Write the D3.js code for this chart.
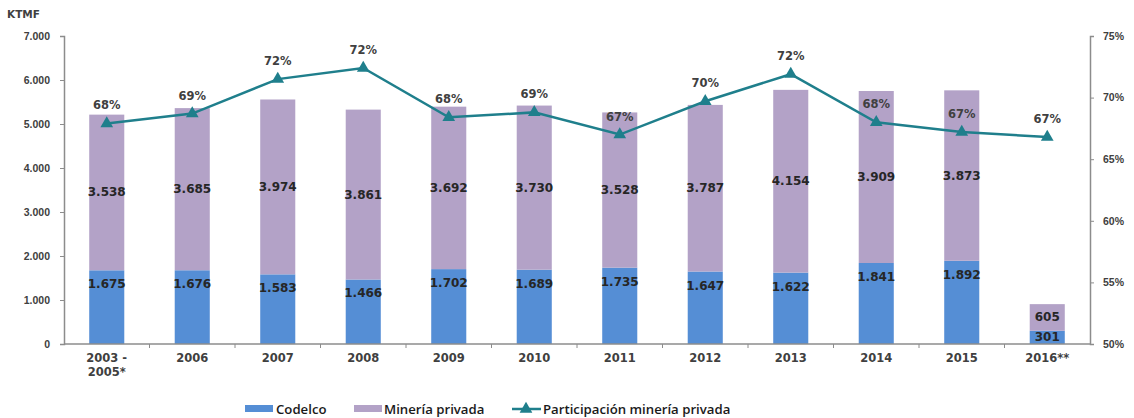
<!DOCTYPE html>
<html>
<head>
<meta charset="utf-8">
<script src="https://cdn.jsdelivr.net/npm/d3@7"></script>
<style>
  body { margin: 0; background: #fff; }
  svg { display: block; font-family: "DejaVu Sans", sans-serif; }
</style>
</head>
<body>
<svg id="chart" width="1134" height="418"></svg>
<script>
// Data
const categories = ['2003 -\n2005*', '2006', '2007', '2008', '2009', '2010', '2011', '2012', '2013', '2014', '2015', '2016**'];
const codelco = [1675, 1676, 1583, 1466, 1702, 1689, 1735, 1647, 1622, 1841, 1892, 301];
const privada = [3538, 3685, 3974, 3861, 3692, 3730, 3528, 3787, 4154, 3909, 3873, 605];
const participacion = [0.679, 0.687, 0.715, 0.724, 0.684, 0.688, 0.670, 0.697, 0.719, 0.680, 0.672, 0.668];
const leftTicks = [0, 1000, 2000, 3000, 4000, 5000, 6000, 7000];
const rightTicks = [0.50, 0.55, 0.60, 0.65, 0.70, 0.75];

const C_BLUE = '#558ed5', C_PURPLE = '#b3a2c7', C_LINE = '#1f7f8c', C_AXIS = '#8c8c8c', C_TEXT = '#404040';

const loc = d3.formatLocale({ decimal: ',', thousands: '.', grouping: [3], currency: ['$', ''] });
const fmt = loc.format(',');
const pct = d3.format('.0%');

const svg = d3.select('#chart');
const m = { left: 64, right: 1090, top: 36, bottom: 344 };

const x = d3.scaleBand().domain(d3.range(categories.length))
  .range([m.left, m.right]).paddingInner(0.59).paddingOuter(0.295);
const y = d3.scaleLinear().domain([0, 7000]).range([m.bottom, m.top]);
const y2 = d3.scaleLinear().domain([0.5, 0.75]).range([m.bottom, m.top]);
const cx = i => x(i) + x.bandwidth() / 2;

// KTMF unit label
svg.append('text').attr('x', 7).attr('y', 18)
  .attr('font-size', 10.5).attr('font-weight', 700).attr('fill', C_TEXT).text('KTMF');

// Bars
const gBars = svg.append('g');
gBars.selectAll('rect.codelco').data(codelco).join('rect')
  .attr('class', 'codelco')
  .attr('x', (d, i) => x(i)).attr('width', x.bandwidth())
  .attr('y', d => y(d)).attr('height', d => y(0) - y(d))
  .attr('fill', C_BLUE);
gBars.selectAll('rect.privada').data(privada).join('rect')
  .attr('class', 'privada')
  .attr('x', (d, i) => x(i)).attr('width', x.bandwidth())
  .attr('y', (d, i) => y(codelco[i] + d)).attr('height', (d, i) => y(codelco[i]) - y(codelco[i] + d))
  .attr('fill', C_PURPLE);

// Axes
const axL = svg.append('g').attr('transform', `translate(${m.left},0)`)
  .call(d3.axisLeft(y).tickValues(leftTicks).tickSize(4).tickPadding(10).tickFormat(fmt));
const axR = svg.append('g').attr('transform', `translate(${m.right},0)`)
  .call(d3.axisRight(y2).tickValues(rightTicks).tickSize(4).tickPadding(9).tickFormat(pct));
[axL, axR].forEach(a => {
  a.select('.domain').attr('stroke', C_AXIS).attr('stroke-width', 1.5);
  a.selectAll('.tick line').attr('stroke', C_AXIS);
  a.selectAll('.tick text').attr('font-size', 10.5).attr('font-weight', 700).attr('fill', C_TEXT);
});

// Category axis
const gx = svg.append('g');
gx.append('line').attr('x1', m.left).attr('x2', m.right).attr('y1', y(0)).attr('y2', y(0))
  .attr('stroke', C_AXIS).attr('stroke-width', 1.5);
gx.selectAll('line.tk').data(d3.range(1, categories.length)).join('line')
  .attr('class', 'tk')
  .attr('x1', i => x(i) - x.step() * x.paddingInner() / 2).attr('x2', i => x(i) - x.step() * x.paddingInner() / 2)
  .attr('y1', y(0)).attr('y2', y(0) + 4).attr('stroke', C_AXIS);
gx.selectAll('text').data(categories).join('text')
  .attr('x', (d, i) => cx(i)).attr('y', y(0) + 18)
  .attr('text-anchor', 'middle').attr('font-size', 11.5).attr('font-weight', 700).attr('fill', C_TEXT)
  .each(function (d) {
    d.split('\n').forEach((s, k) => {
      d3.select(this).append('tspan').attr('x', d3.select(this).attr('x')).attr('dy', k ? 14 : 0).text(s);
    });
  });

// Bar value labels
const lblStyle = s => s.attr('text-anchor', 'middle').attr('font-size', 12).attr('font-weight', 700).attr('fill', '#262626');
svg.append('g').selectAll('text').data(codelco).join('text')
  .attr('x', (d, i) => cx(i))
  .attr('y', d => d < 800 ? (y(d) + y(0)) / 2 + 4 : y(d) + 18)
  .call(lblStyle).text(d => fmt(d));
svg.append('g').selectAll('text').data(privada).join('text')
  .attr('x', (d, i) => cx(i))
  .attr('y', (d, i) => (y(codelco[i]) + y(codelco[i] + d)) / 2 + 4)
  .call(lblStyle).text(d => fmt(d));

// Participation line
const line = d3.line().x((d, i) => cx(i)).y(d => y2(d));
svg.append('path').datum(participacion).attr('d', line)
  .attr('fill', 'none').attr('stroke', C_LINE).attr('stroke-width', 2.5);
const tri = d3.symbol().type(d3.symbolTriangle).size(70);
svg.append('g').selectAll('path').data(participacion).join('path')
  .attr('transform', (d, i) => `translate(${cx(i)},${y2(d)})`)
  .attr('d', tri).attr('fill', C_LINE);
svg.append('g').selectAll('text').data(participacion).join('text')
  .attr('x', (d, i) => cx(i)).attr('y', d => y2(d) - 14)
  .attr('text-anchor', 'middle').attr('font-size', 11.5).attr('font-weight', 700).attr('fill', C_TEXT)
  .text(d => pct(d));

// Legend
const lg = svg.append('g').attr('transform', 'translate(0,409)');
lg.append('rect').attr('x', 245).attr('y', -4).attr('width', 28).attr('height', 7).attr('fill', C_BLUE);
lg.append('text').attr('x', 276).attr('y', 5).text('Codelco');
lg.append('rect').attr('x', 354).attr('y', -4).attr('width', 28).attr('height', 7).attr('fill', C_PURPLE);
lg.append('text').attr('x', 384).attr('y', 5).text('Minería privada');
lg.append('line').attr('x1', 512).attr('x2', 541).attr('y1', 0).attr('y2', 0).attr('stroke', C_LINE).attr('stroke-width', 2.5);
lg.append('path').attr('transform', 'translate(526,0)').attr('d', tri).attr('fill', C_LINE);
lg.append('text').attr('x', 543).attr('y', 5).text('Participación minería privada');
lg.selectAll('text').attr('font-family', '"Open Sans", sans-serif')
  .attr('font-size', 13.2).attr('font-weight', 600).attr('fill', '#1a1a1a');
</script>
</body>
</html>
